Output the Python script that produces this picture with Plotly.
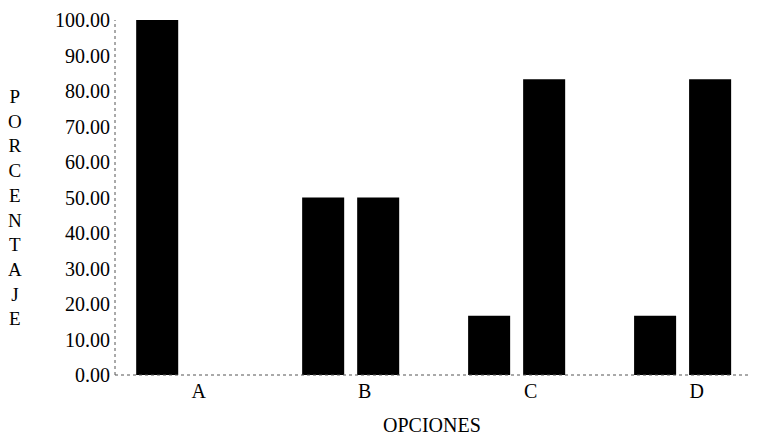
import plotly.graph_objects as go

categories = ["A", "B", "C", "D"]
serie_1 = [100.00, 50.00, 16.67, 16.67]
serie_2 = [0.00, 50.00, 83.33, 83.33]
y_ticks = [0, 10, 20, 30, 40, 50, 60, 70, 80, 90, 100]
y_title = "PORCENTAJE"
x_title = "OPCIONES"

FONT = "Liberation Serif, Times New Roman, serif"

fig = go.Figure()
fig.add_trace(go.Bar(x=categories, y=serie_1, marker=dict(color="black", line=dict(width=0)), showlegend=False))
fig.add_trace(go.Bar(x=categories, y=serie_2, marker=dict(color="black", line=dict(width=0)), showlegend=False))

fig.update_layout(
    width=762, height=429,
    margin=dict(l=107, r=21, t=12, b=62),
    paper_bgcolor="white", plot_bgcolor="white",
    barmode="group", bargap=0.337, bargroupgap=0.236,
    font=dict(family=FONT, color="black"),
    xaxis=dict(
        range=[-0.42, 3.4], showgrid=False, zeroline=False, showline=False,
        ticks="", tickfont=dict(size=20, family=FONT, color="black"),
        ticklabelshift=14, ticklabelstandoff=2, automargin=False,
    ),
    yaxis=dict(
        range=[0, 100], tickvals=y_ticks, tickformat=".2f",
        showgrid=False, zeroline=False, showline=False, ticks="",
        tickfont=dict(size=20, family=FONT, color="black"),
        ticklabelstandoff=4, automargin=False,
    ),
)

# dotted axis lines
fig.add_shape(type="line", xref="paper", yref="paper", x0=0, x1=0, y0=0, y1=1,
              line=dict(color="#555555", width=1, dash="dot"))
fig.add_shape(type="line", xref="paper", yref="paper", x0=0, x1=1, y0=0, y1=0,
              line=dict(color="#555555", width=1, dash="dot"))

# vertical stacked y title
fig.add_annotation(
    text="<br>".join(list(y_title)), xref="paper", yref="paper",
    x=0, xshift=-100, y=0.472, xanchor="center", yanchor="middle",
    showarrow=False, font=dict(size=19, family=FONT, color="black"),
    align="center",
)
fig.add_annotation(
    text=x_title, xref="paper", yref="paper", x=0.5, y=0, yshift=-50,
    xanchor="center", yanchor="middle", showarrow=False,
    font=dict(size=20, family=FONT, color="black"),
)

fig.write_html("out.html")
